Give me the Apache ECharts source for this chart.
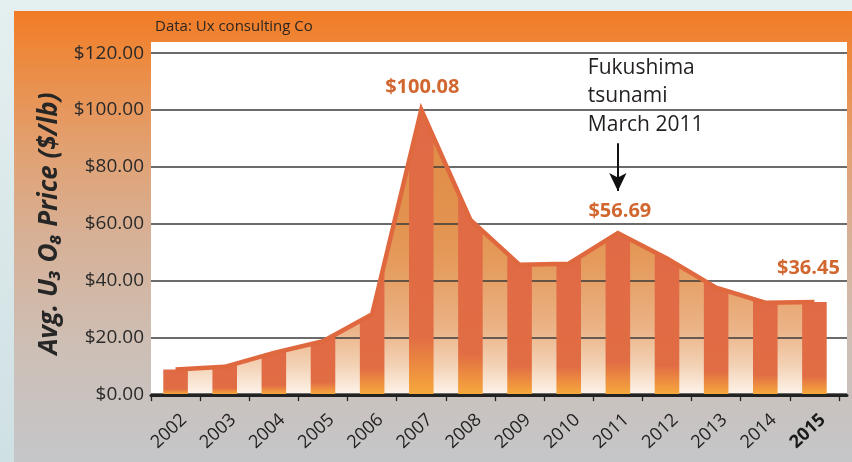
<!DOCTYPE html>
<html>
<head>
<meta charset="utf-8">
<script src="https://cdn.jsdelivr.net/npm/echarts@6/dist/echarts.min.js"></script>
<style>
html,body{margin:0;padding:0;}
#c{width:852px;height:462px;}
</style>
</head>
<body>
<div id="c"></div>
<script>
// ---- data ----
var years = ['2002','2003','2004','2005','2006','2007','2008','2009','2010','2011','2012','2013','2014','2015'];
var prices = [8.7, 9.6, 14.5, 18.6, 28.1, 100.08, 61.3, 45.5, 45.9, 56.69, 47.7, 37.5, 32.2, 32.4];
var yTicks = [0, 20, 40, 60, 80, 100, 120];
var calloutYears = ['2007', '2011', '2015'];
var calloutValues = [100.08, 56.69, 36.45];
var sourceText = 'Data: Ux consulting Co';
var yTitle = 'Avg. U\u2083 O\u2088 Price ($/lb)';
var eventText = ['Fukushima', 'tsunami', 'March 2011'];
var eventYear = '2011';
var arrowFrom = 88.3, arrowTo = 71.5;

var chart = echarts.init(document.getElementById('c'));
var LG = echarts.graphic.LinearGradient;
var orange = '#e0683f';
var calloutOffsets = [[1, -22.5], [2, -21.5], [-6, -22]];

var barFill = new LG(0, 0, 0, 1, [
  {offset: 0, color: '#e06a45'},
  {offset: 0.8, color: '#e16d44'},
  {offset: 1, color: '#f6a83c'}
]);

var option = {
  backgroundColor: new LG(0, 0, 0, 1, [
    {offset: 0, color: '#e5eff0'},
    {offset: 1, color: '#cfe0e3'}
  ]),
  animation: false,
  textStyle: {fontFamily: 'Open Sans'},
  title: {
    text: sourceText, left: 155, top: 18, padding: 0,
    textStyle: {fontFamily: 'Open Sans', fontSize: 15, fontWeight: 'normal', color: '#2d2620', lineHeight: 18}
  },
  graphic: [
    {type: 'rect', z: -20, shape: {x: 14, y: 11, width: 838, height: 451},
     style: {fill: new LG(0, 0, 0, 1, [
       {offset: 0, color: '#f17b25'},
       {offset: 0.08, color: '#ee8739'},
       {offset: 0.3, color: '#e2a070'},
       {offset: 0.5, color: '#d7b096'},
       {offset: 0.75, color: '#cdbfb6'},
       {offset: 1, color: '#c5c6c9'}
     ])}},
    {type: 'rect', z: -10, shape: {x: 151, y: 42, width: 696, height: 352}, style: {fill: '#ffffff'}}
  ],
  grid: [
    {left: 151, right: 5, top: 53.2, bottom: 67.9, containLabel: false, outerBoundsMode: 'none'},
    {left: 151, right: 13, top: 53.2, bottom: 67.9, containLabel: false, outerBoundsMode: 'none'}
  ],
  xAxis: [
    {type: 'value', gridIndex: 0, min: 0, max: 1, offset: 1,
     axisLine: {show: true, onZero: false, lineStyle: {color: '#222', width: 3}},
     axisTick: {show: false}, axisLabel: {show: false}, splitLine: {show: false}},
    {type: 'category', gridIndex: 1, boundaryGap: true, data: years,
     axisLine: {show: false},
     axisTick: {show: true, length: 7, lineStyle: {color: '#222', width: 1.3}},
     axisLabel: {
       interval: 0, rotate: 43, align: 'center', verticalAlign: 'middle', margin: 31,
       fontFamily: 'Open Sans', fontSize: 18, color: '#222', padding: [0, 18, 0, 0],
       formatter: function (v, i) { return i === years.length - 1 ? '{b|' + v + '}' : v; },
       rich: {b: {fontFamily: 'Open Sans', fontSize: 18, fontWeight: 'bold', color: '#1a1a1a'}}
     }}
  ],
  yAxis: [
    {type: 'value', gridIndex: 0, min: yTicks[0], max: yTicks[yTicks.length - 1], interval: yTicks[1] - yTicks[0],
     axisLine: {show: false}, axisTick: {show: false},
     axisLabel: {margin: 7, fontFamily: 'Open Sans', fontSize: 19, color: '#2a2a2a',
       formatter: function (v) { return '$' + v.toFixed(2); }},
     splitLine: {show: true, lineStyle: {color: '#3a3a3a', width: 1.5}},
     name: yTitle,
     nameLocation: 'middle', nameRotate: 90, nameGap: 87,
     nameTextStyle: {fontFamily: 'Open Sans', fontWeight: 'bold', fontStyle: 'italic', fontSize: 26, color: '#262626'}},
    {type: 'value', gridIndex: 1, min: yTicks[0], max: yTicks[yTicks.length - 1], interval: yTicks[1] - yTicks[0], show: false}
  ],
  series: [
    {type: 'line', name: 'area', xAxisIndex: 1, yAxisIndex: 1, data: prices, z: -1,
     symbol: 'none', silent: true, lineStyle: {width: 0},
     areaStyle: {opacity: 1, color: new LG(0, 0, 0, 1, [
       {offset: 0, color: '#df8a45'},
       {offset: 0.4, color: '#e3934f'},
       {offset: 0.55, color: '#e59c5e'},
       {offset: 0.77, color: '#ebb387'},
       {offset: 0.9, color: '#f3d2b5'},
       {offset: 1, color: '#fdf3ea'}
     ])}},
    {type: 'custom', name: 'bars', xAxisIndex: 1, yAxisIndex: 1, z: 3,
     data: prices.map(function (v, i) { return [i, v]; }),
     encode: {x: 0, y: 1},
     renderItem: function (params, api) {
       var i = params.dataIndex;
       var c = api.coord([i, prices[i]]);
       var base = api.coord([i, 0]);
       var bw = api.size([1, 0])[0] * 0.5;
       var xl = c[0] - bw / 2, xr = c[0] + bw / 2;
       function yAt(x, j) {
         var n = api.coord([j, prices[j]]);
         var t = (x - c[0]) / (n[0] - c[0]);
         return c[1] + t * (n[1] - c[1]);
       }
       var yl = i > 0 ? yAt(xl, i - 1) : c[1];
       var yr = i < prices.length - 1 ? yAt(xr, i + 1) : c[1];
       return {type: 'polygon',
         shape: {points: [[xl, base[1]], [xl, yl], [c[0], c[1]], [xr, yr], [xr, base[1]]]},
         style: {fill: barFill}};
     }},
    {type: 'line', name: 'price', xAxisIndex: 1, yAxisIndex: 1, data: prices, z: 4,
     symbol: 'none', lineStyle: {color: orange, width: 4.5, join: 'miter'},
     markPoint: {
       symbol: 'circle', symbolSize: 1, silent: true,
       itemStyle: {color: 'rgba(0,0,0,0)'},
       data: calloutYears.map(function (y, k) {
         return {coord: [y, calloutValues[k]], value: calloutValues[k],
           label: {show: true, position: 'inside', offset: calloutOffsets[k],
             formatter: '$' + calloutValues[k].toFixed(2),
             fontFamily: 'Open Sans', fontWeight: 'bold', fontSize: 20, color: '#d2662f',
             align: 'center', verticalAlign: 'middle'}};
       }).concat([{
         coord: [eventYear, yTicks[yTicks.length - 1]],
         label: {show: true, position: 'inside', offset: [-30, 0.5],
           formatter: eventText.join('\n'), align: 'left', verticalAlign: 'top',
           fontFamily: 'Open Sans', fontSize: 21, lineHeight: 28.5, color: '#231f20'}
       }])
     },
     markLine: {
       silent: true, symbol: ['none', 'arrow'], symbolSize: [13, 18],
       lineStyle: {color: '#111', width: 2, type: 'solid'},
       label: {show: false},
       data: [[{coord: [eventYear, arrowFrom]}, {coord: [eventYear, arrowTo]}]]
     }}
  ]
};
chart.setOption(option);
</script>
</body>
</html>
